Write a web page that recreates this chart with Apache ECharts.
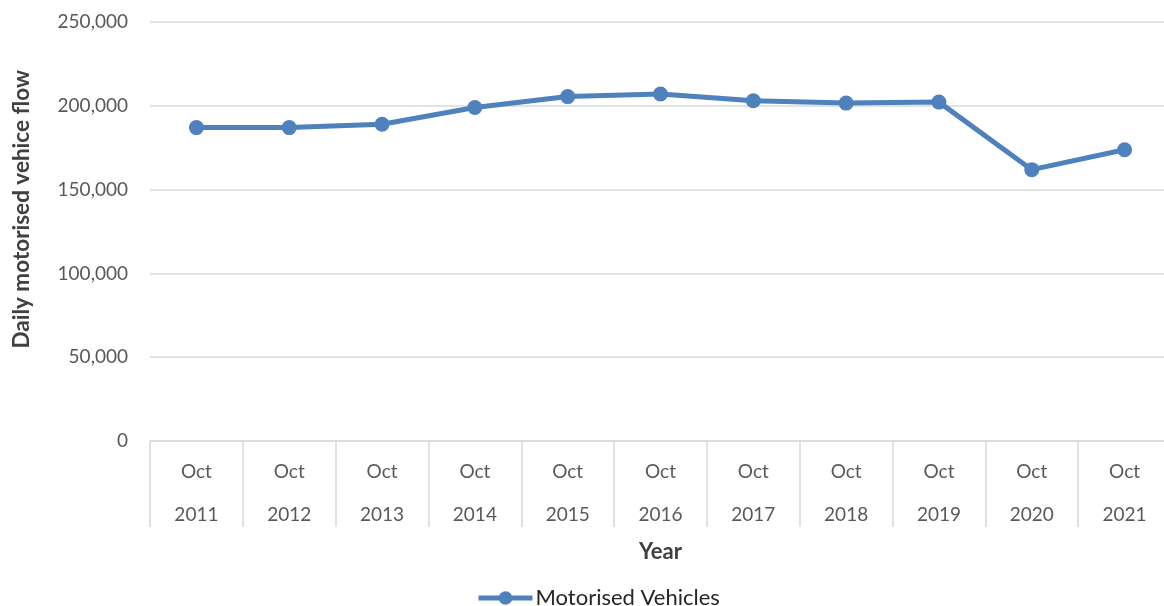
<!DOCTYPE html>
<html>
<head>
<meta charset="utf-8">
<script src="https://cdn.jsdelivr.net/npm/echarts@6/dist/echarts.min.js"></script>
<style>
  html, body { margin: 0; padding: 0; background: #fff; }
  #box { width: 1164px; height: 606px; }
</style>
</head>
<body>
<div id="box"></div>
<script>
// 分类（两行：月份 + 年份）
const years = ['2011', '2012', '2013', '2014', '2015', '2016', '2017', '2018', '2019', '2020', '2021'];
const categories = years.map(y => 'Oct\n' + y);
// 每日机动车流量
const vehicleFlow = [187000, 187000, 189000, 199000, 205500, 207000, 203000, 201600, 202200, 161900, 173800];
// y 轴刻度
const yMin = 0;
const yMax = 250000;
const yStep = 50000;

const font = 'Lato, "Liberation Sans", sans-serif';

var myChart = echarts.init(document.getElementById('box'));

const option = {
    animation: false,
    textStyle: { fontFamily: font },
    // 绘图区右侧略超出画布（与原图一致）
    grid: { left: 150, width: 1021, top: 22, bottom: 165, containLabel: false, outerBoundsMode: 'none' },
    legend: {
        top: 582,
        left: 471,
        itemWidth: 54,
        itemHeight: 17,
        itemGap: 4,
        lineStyle: { width: 5 },
        textStyle: { fontSize: 22, color: '#262626', fontFamily: font, padding: [0, 0, 0, -2] },
        data: ['Motorised Vehicles']
    },
    xAxis: {
        type: 'category',
        data: categories,
        boundaryGap: true,
        name: 'Year',
        nameLocation: 'middle',
        nameGap: 94,
        nameTextStyle: { fontSize: 22, fontWeight: 'bold', color: '#404040', fontFamily: font },
        axisLine: { lineStyle: { color: '#d9d9d9', width: 1.5 } },
        axisTick: { show: true, interval: 0, length: 86, lineStyle: { color: '#d9d9d9', width: 1.5 } },
        axisLabel: {
            interval: 0,
            margin: 9,
            fontSize: 19,
            lineHeight: 43,
            color: '#595959',
            fontFamily: font
        }
    },
    yAxis: {
        type: 'value',
        min: yMin,
        max: yMax,
        interval: yStep,
        axisLine: { show: false },
        axisTick: { show: false },
        splitLine: { lineStyle: { color: '#d9d9d9', width: 1.5 } },
        axisLabel: {
            margin: 22,
            fontSize: 19,
            color: '#595959',
            fontFamily: font,
            formatter: v => v.toLocaleString('en-US')
        }
    },
    graphic: [{
        type: 'text',
        left: 10,
        top: 70,
        rotation: Math.PI / 2,
        style: {
            text: 'Daily motorised vehice flow',
            fontSize: 22.5,
            fontWeight: 'bold',
            fill: '#404040',
            fontFamily: font
        }
    }],
    series: [{
        name: 'Motorised Vehicles',
        type: 'line',
        data: vehicleFlow,
        symbol: 'circle',
        symbolSize: 15,
        lineStyle: { color: '#4f81bd', width: 5 },
        itemStyle: { color: '#4f81bd' }
    }]
};

myChart.setOption(option);
</script>
</body>
</html>
